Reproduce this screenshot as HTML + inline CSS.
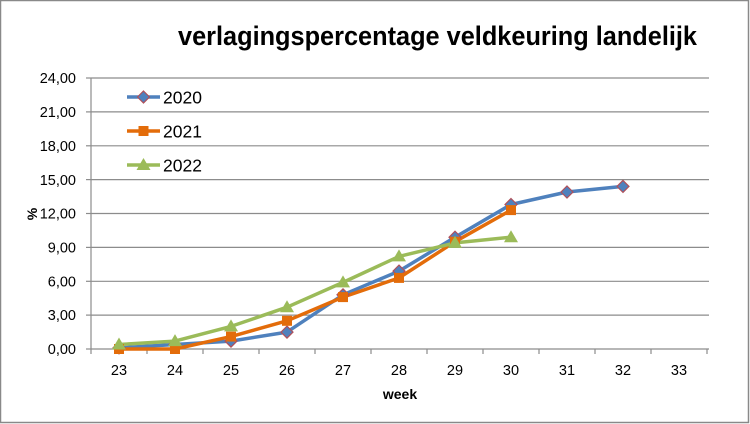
<!DOCTYPE html>
<html><head><meta charset="utf-8"><style>
html,body{margin:0;padding:0;background:#fff;}
svg{display:block;}
text{font-family:"Liberation Sans",sans-serif;fill:#000;}
</style></head><body>
<svg width="750" height="424" viewBox="0 0 750 424" xmlns="http://www.w3.org/2000/svg">
<rect x="0.5" y="0.5" width="748" height="422" fill="#fff" stroke="#898989" stroke-width="1.5"/>
<text x="178" y="45" font-size="27" font-weight="bold" textLength="519" lengthAdjust="spacingAndGlyphs">verlagingspercentage veldkeuring landelijk</text>
<g stroke="#8c8c8c" stroke-width="1.2">
<line x1="91" y1="78" x2="709" y2="78"/>
<line x1="91" y1="111.9" x2="709" y2="111.9"/>
<line x1="91" y1="145.8" x2="709" y2="145.8"/>
<line x1="91" y1="179.6" x2="709" y2="179.6"/>
<line x1="91" y1="213.5" x2="709" y2="213.5"/>
<line x1="91" y1="247.4" x2="709" y2="247.4"/>
<line x1="91" y1="281.3" x2="709" y2="281.3"/>
<line x1="91" y1="315.1" x2="709" y2="315.1"/>
<line x1="91" y1="349" x2="709" y2="349"/>
<line x1="91" y1="78" x2="91" y2="349"/>
<line x1="86" y1="78" x2="91" y2="78"/><line x1="86" y1="111.9" x2="91" y2="111.9"/><line x1="86" y1="145.8" x2="91" y2="145.8"/><line x1="86" y1="179.6" x2="91" y2="179.6"/><line x1="86" y1="213.5" x2="91" y2="213.5"/><line x1="86" y1="247.4" x2="91" y2="247.4"/><line x1="86" y1="281.3" x2="91" y2="281.3"/><line x1="86" y1="315.1" x2="91" y2="315.1"/><line x1="86" y1="349" x2="91" y2="349"/>
<line x1="91" y1="349" x2="91" y2="354"/><line x1="147" y1="349" x2="147" y2="354"/><line x1="203" y1="349" x2="203" y2="354"/><line x1="259" y1="349" x2="259" y2="354"/><line x1="315" y1="349" x2="315" y2="354"/><line x1="371" y1="349" x2="371" y2="354"/><line x1="427" y1="349" x2="427" y2="354"/><line x1="483" y1="349" x2="483" y2="354"/><line x1="539" y1="349" x2="539" y2="354"/><line x1="595" y1="349" x2="595" y2="354"/><line x1="651" y1="349" x2="651" y2="354"/><line x1="707" y1="349" x2="707" y2="354"/>
</g>
<g font-size="14.5" text-anchor="end">
<text x="76" y="83">24,00</text>
<text x="76" y="117">21,00</text>
<text x="76" y="151">18,00</text>
<text x="76" y="185">15,00</text>
<text x="76" y="218.5">12,00</text>
<text x="76" y="252.5">9,00</text>
<text x="76" y="286.5">6,00</text>
<text x="76" y="320">3,00</text>
<text x="76" y="354">0,00</text>
</g>
<g font-size="14.5" text-anchor="middle">
<text x="119" y="375">23</text><text x="175" y="375">24</text><text x="231" y="375">25</text><text x="287" y="375">26</text><text x="343" y="375">27</text><text x="399" y="375">28</text><text x="455" y="375">29</text><text x="511" y="375">30</text><text x="567" y="375">31</text><text x="623" y="375">32</text><text x="679" y="375">33</text>
</g>
<text x="400" y="399" font-size="14" font-weight="bold" text-anchor="middle">week</text>
<text transform="translate(37,214) rotate(-90)" font-size="14" font-weight="bold" text-anchor="middle">%</text>

<!-- 2020 -->
<polyline fill="none" stroke="#4f81bd" stroke-width="3.5" stroke-linejoin="round" points="119,347.9 175,344.5 231,341.1 287,332.1 343,294.8 399,271.1 455,237.2 511,204.5 567,192 623,186.4"/>
<!-- 2021 -->
<polyline fill="none" stroke="#e36c0a" stroke-width="3.5" stroke-linejoin="round" points="119,349 175,349 231,336.6 287,320.8 343,297.1 399,277.9 455,241.7 511,210.1"/>
<!-- 2022 -->
<polyline fill="none" stroke="#9bbb59" stroke-width="3.5" stroke-linejoin="round" points="119,344.5 175,341.1 231,326.4 287,307.2 343,282.4 399,256.4 455,242.9 511,237.2"/>

<defs>
<path id="dia" d="M0,-6 L6,0 L0,6 L-6,0 Z" fill="#4f81bd" stroke="#b0505a" stroke-width="1.2"/>
<rect id="sq" x="-5" y="-5" width="10" height="10" fill="#e36c0a"/>
<path id="tri" d="M0,-7 L7,5 L-7,5 Z" fill="#9bbb59"/>
</defs>
<g>
<use href="#dia" x="119" y="347.9"/><use href="#dia" x="175" y="344.5"/><use href="#dia" x="231" y="341.1"/><use href="#dia" x="287" y="332.1"/><use href="#dia" x="343" y="294.8"/><use href="#dia" x="399" y="271.1"/><use href="#dia" x="455" y="237.2"/><use href="#dia" x="511" y="204.5"/><use href="#dia" x="567" y="192"/><use href="#dia" x="623" y="186.4"/>
</g>
<g>
<use href="#sq" x="119" y="349"/><use href="#sq" x="175" y="349"/><use href="#sq" x="231" y="336.6"/><use href="#sq" x="287" y="320.8"/><use href="#sq" x="343" y="297.1"/><use href="#sq" x="399" y="277.9"/><use href="#sq" x="455" y="241.7"/><use href="#sq" x="511" y="210.1"/>
</g>
<g>
<use href="#tri" x="119" y="344.5"/><use href="#tri" x="175" y="341.1"/><use href="#tri" x="231" y="326.4"/><use href="#tri" x="287" y="307.2"/><use href="#tri" x="343" y="282.4"/><use href="#tri" x="399" y="256.4"/><use href="#tri" x="455" y="242.9"/><use href="#tri" x="511" y="237.2"/>
</g>

<!-- legend -->
<line x1="127" y1="97" x2="160" y2="97" stroke="#4f81bd" stroke-width="3.5"/>
<use href="#dia" x="143.5" y="97"/>
<text x="163" y="103.5" font-size="17.5">2020</text>
<line x1="127" y1="131" x2="160" y2="131" stroke="#e36c0a" stroke-width="3.5"/>
<use href="#sq" x="143.5" y="131"/>
<text x="163" y="137.5" font-size="17.5">2021</text>
<line x1="127" y1="165" x2="160" y2="165" stroke="#9bbb59" stroke-width="3.5"/>
<use href="#tri" x="143.5" y="165"/>
<text x="163" y="171.5" font-size="17.5">2022</text>
</svg>
</body></html>
